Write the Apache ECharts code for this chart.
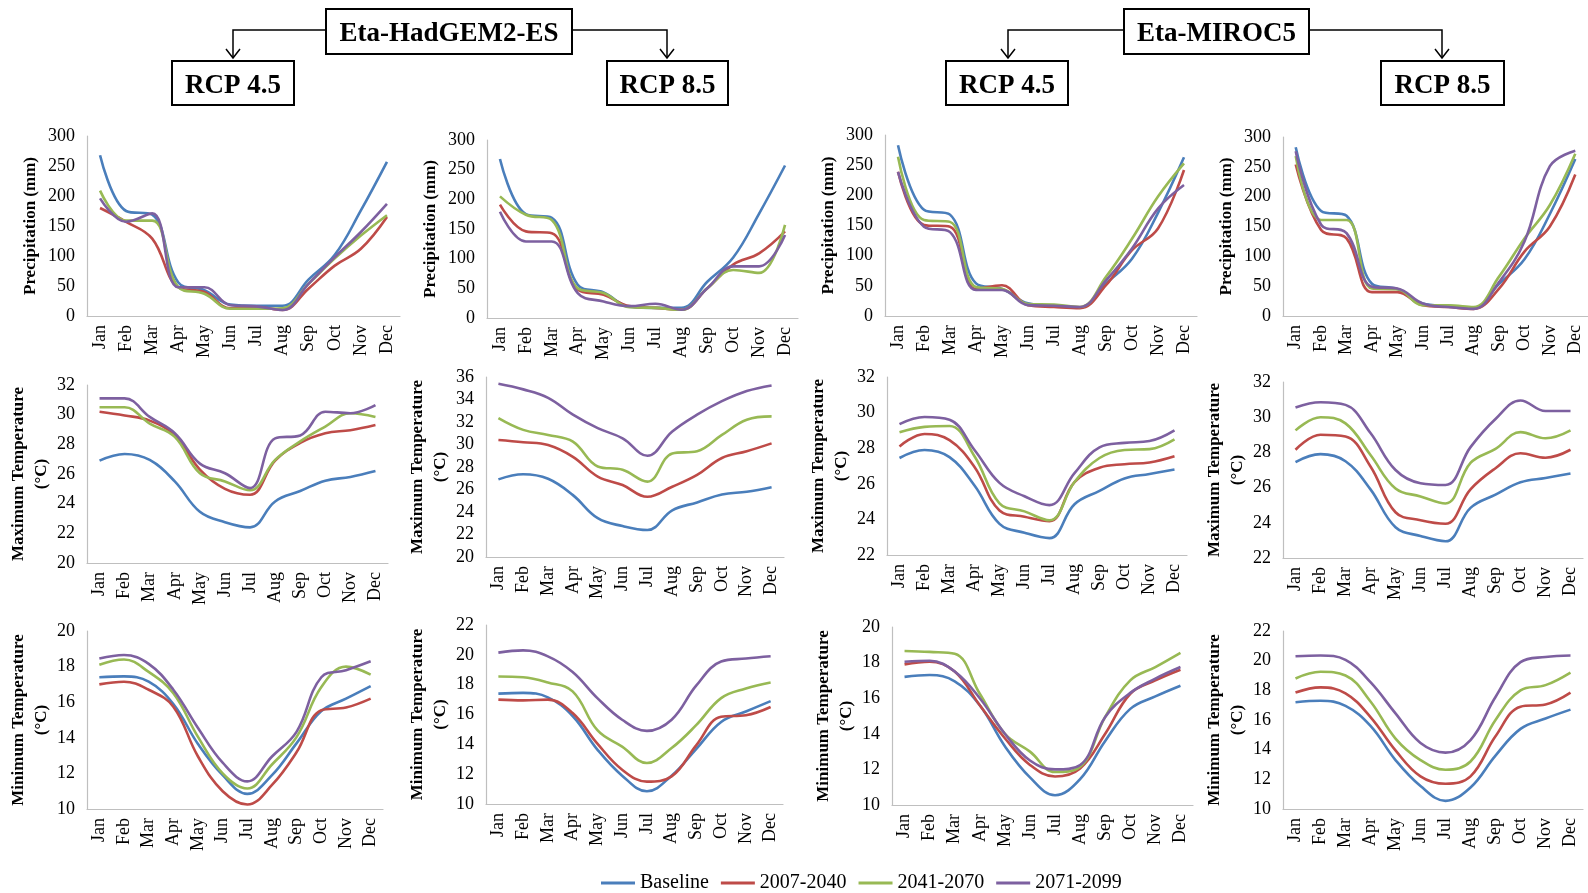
<!DOCTYPE html>
<html>
<head>
<meta charset="utf-8">
<script src="https://cdn.jsdelivr.net/npm/echarts@6/dist/echarts.min.js"></script>
<style>
  body { margin: 0; background: #fff; }
  #main { width: 1588px; height: 893px; }
</style>
</head>
<body>
<div id="main"></div>
<script>
var months = ['Jan', 'Feb', 'Mar', 'Apr', 'May', 'Jun', 'Jul', 'Aug', 'Sep', 'Oct', 'Nov', 'Dec'];
var periods = ['Baseline', '2007-2040', '2041-2070', '2071-2099'];

// baselines (same for both RCPs of one model)
var prHadBase = [268, 175, 169, 56, 43, 19, 17, 17, 61, 102, 176, 257];
var prMirBase = [283, 176, 168, 54, 45, 21, 17, 14, 54, 95, 171, 263];
var txHadBase = [26.9, 27.35, 26.95, 25.5, 23.45, 22.75, 22.4, 24.15, 24.85, 25.55, 25.8, 26.2];
var txMirBase = [27.45, 27.9, 27.5, 25.9, 23.75, 23.25, 22.95, 24.85, 25.6, 26.3, 26.55, 26.8];
var tnHadBase = [17.4, 17.45, 17.15, 15.9, 13.65, 11.9, 10.85, 11.9, 13.7, 15.5, 16.2, 16.9];
var tnMirBase = [17.2, 17.3, 16.95, 15.6, 13.3, 11.55, 10.55, 11.45, 13.6, 15.4, 16.1, 16.7];

// future periods: 2007-2040, 2041-2070, 2071-2099
var prHad45 = [
    [180, 157, 129, 48, 40, 13, 15, 10, 46, 84, 112, 165],
    [209, 159, 159, 48, 37, 12, 12, 13, 54, 96, 134, 168],
    [196, 157, 171, 48, 48, 18, 16, 10, 54, 98, 140, 187]
];
var prHad85 = [
    [191, 146, 143, 48, 39, 20, 17, 14, 50, 90, 109, 146],
    [205, 174, 165, 50, 42, 18, 17, 14, 50, 81, 76, 157],
    [179, 129, 129, 42, 28, 20, 24, 14, 50, 87, 87, 140]
];
var prMir45 = [
    [239, 151, 148, 45, 51, 18, 15, 13, 51, 109, 145, 242],
    [264, 159, 156, 48, 45, 20, 19, 15, 65, 128, 198, 253],
    [239, 148, 139, 43, 43, 18, 17, 15, 59, 112, 178, 217]
];
var prMir85 = [
    [254, 144, 130, 40, 40, 18, 15, 12, 46, 108, 150, 237],
    [268, 161, 161, 46, 45, 18, 18, 15, 66, 130, 186, 272],
    [276, 153, 139, 49, 46, 21, 15, 12, 57, 125, 251, 277]
];
var txHad45 = [
    [30.2, 29.95, 29.6, 28.6, 26.3, 25.0, 24.6, 26.9, 28.1, 28.75, 28.95, 29.3],
    [30.5, 30.5, 29.4, 28.5, 26.05, 25.5, 24.9, 26.95, 28.2, 29.2, 30.1, 29.85],
    [31.1, 31.1, 29.85, 28.75, 26.7, 26.05, 25.05, 28.4, 28.6, 30.2, 30.1, 30.65]
];
var txHad85 = [
    [30.4, 30.2, 29.95, 28.9, 27.15, 26.4, 25.35, 26.25, 27.3, 28.8, 29.4, 30.1],
    [32.35, 31.3, 30.85, 30.25, 28.05, 27.75, 26.7, 29.2, 29.4, 30.85, 32.2, 32.5],
    [35.4, 34.9, 34.15, 32.65, 31.45, 30.55, 29.0, 31.15, 32.65, 33.85, 34.75, 35.25]
];
var txMir45 = [
    [28.1, 28.8, 28.45, 26.95, 24.5, 24.15, 23.9, 26.1, 26.9, 27.1, 27.2, 27.55],
    [28.9, 29.2, 29.25, 27.55, 24.9, 24.45, 23.95, 26.1, 27.45, 27.9, 27.95, 28.5],
    [29.35, 29.75, 29.6, 27.9, 26.05, 25.3, 24.8, 26.6, 28.05, 28.3, 28.4, 29.0]
];
var txMir85 = [
    [28.15, 29.0, 28.9, 27.2, 24.6, 24.15, 23.95, 25.9, 27.1, 27.95, 27.7, 28.15],
    [29.25, 30.0, 29.65, 27.85, 25.95, 25.5, 25.1, 27.4, 28.2, 29.15, 28.8, 29.25],
    [30.55, 30.85, 30.7, 29.1, 27.0, 26.25, 26.15, 28.3, 29.9, 30.95, 30.35, 30.35]
];
var tnHad45 = [
    [17.0, 17.15, 16.7, 15.75, 12.95, 11.0, 10.25, 11.35, 13.2, 15.55, 15.7, 16.2],
    [18.1, 18.4, 17.7, 16.5, 14.05, 12.0, 11.15, 12.5, 14.05, 16.85, 18.0, 17.55],
    [18.45, 18.65, 18.15, 16.7, 14.55, 12.6, 11.55, 12.95, 14.35, 17.4, 17.8, 18.3]
];
var tnHad85 = [
    [17.0, 16.95, 17.0, 16.1, 14.05, 12.3, 11.5, 11.85, 13.95, 15.85, 15.95, 16.5],
    [18.55, 18.5, 18.15, 17.55, 14.95, 13.85, 12.75, 13.75, 15.3, 17.1, 17.75, 18.15],
    [20.15, 20.3, 19.9, 18.85, 17.1, 15.65, 14.9, 15.65, 17.95, 19.55, 19.75, 19.9]
];
var tnMir45 = [
    [17.9, 18.05, 17.5, 15.6, 13.75, 12.25, 11.6, 12.05, 14.0, 16.25, 17.0, 17.6],
    [18.65, 18.6, 18.5, 16.25, 14.0, 13.0, 11.85, 12.15, 14.95, 17.0, 17.75, 18.55],
    [18.05, 18.1, 17.5, 16.0, 14.0, 12.5, 12.0, 12.25, 14.95, 16.3, 17.1, 17.75]
];
var tnMir85 = [
    [17.85, 18.2, 17.8, 16.2, 13.95, 12.2, 11.7, 12.2, 14.9, 16.9, 17.05, 17.85],
    [18.8, 19.25, 19.0, 17.25, 14.75, 13.3, 12.65, 13.2, 16.0, 18.0, 18.35, 19.2],
    [20.3, 20.35, 20.05, 18.55, 16.45, 14.45, 13.8, 14.65, 17.55, 19.9, 20.25, 20.35]
];

// y axis ranges [min, max, interval]
var prRange = [0, 300, 50];
var txRangeA = [20, 32, 2];
var txRangeB = [20, 36, 2];
var txRangeC = [22, 32, 2];
var tnRangeA = [10, 20, 2];
var tnRangeB = [10, 22, 2];

var prName = 'Precipitation (mm)';
var txName = 'Maximum Temperature\n(°C)';
var tnName = 'Minimum Temperature\n(°C)';

var panels = [
    [prHadBase, prHad45, prRange, prName],
    [prHadBase, prHad85, prRange, prName],
    [prMirBase, prMir45, prRange, prName],
    [prMirBase, prMir85, prRange, prName],
    [txHadBase, txHad45, txRangeA, txName],
    [txHadBase, txHad85, txRangeB, txName],
    [txMirBase, txMir45, txRangeC, txName],
    [txMirBase, txMir85, txRangeC, txName],
    [tnHadBase, tnHad45, tnRangeA, tnName],
    [tnHadBase, tnHad85, tnRangeB, tnName],
    [tnMirBase, tnMir45, tnRangeA, tnName],
    [tnMirBase, tnMir85, tnRangeB, tnName]
];

// left, top, width, height of each plot area
var gridBoxes = [
    [87, 136, 313, 180], [487, 140, 311, 178], [885, 135, 312, 181], [1283, 137, 314, 179],
    [87, 385, 301, 178], [486, 377, 298, 180], [887, 377, 300, 178], [1283, 382, 300, 176],
    [87, 631, 296, 178], [486, 625, 297, 179], [892, 627, 301, 178], [1283, 631, 300, 178]
];

var colors = ['#4A7EBB', '#BE4B48', '#98B954', '#7D60A0'];
var serif = '"Liberation Serif", "Times New Roman", serif';

var grids = [], xAxes = [], yAxes = [], series = [];
panels.forEach(function (p, i) {
    var b = gridBoxes[i];
    grids.push({left: b[0], top: b[1], width: b[2], height: b[3]});
    xAxes.push({
        type: 'category',
        gridIndex: i,
        data: months,
        boundaryGap: true,
        axisLine: {lineStyle: {color: '#bfbfbf', width: 1.2}},
        axisTick: {show: false},
        axisLabel: {rotate: 90, interval: 0, margin: 9, fontSize: 18, color: '#000', fontFamily: serif}
    });
    var twoLine = i >= 4;
    yAxes.push({
        type: 'value',
        gridIndex: i,
        min: p[2][0],
        max: p[2][1],
        interval: p[2][2],
        name: p[3],
        nameLocation: 'middle',
        nameGap: twoLine ? 31 : 45,
        nameTextStyle: {fontSize: 17, fontWeight: 'bold', color: '#000', fontFamily: serif, lineHeight: 23},
        axisLine: {show: true, lineStyle: {color: '#bfbfbf', width: 1.2}},
        axisTick: {show: false},
        splitLine: {show: false},
        axisLabel: {margin: 12, fontSize: 18, color: '#000', fontFamily: serif}
    });
    var lines = [p[0]].concat(p[1]);
    lines.forEach(function (vals, k) {
        series.push({
            name: periods[k],
            type: 'line',
            xAxisIndex: i,
            yAxisIndex: i,
            data: vals,
            smooth: 0.4,
            symbol: 'none',
            lineStyle: {width: 2.6, color: colors[k]},
            itemStyle: {color: colors[k]},
            z: 2 + k
        });
    });
});

// header boxes and arrows
var headFont = {fontSize: 27, fontWeight: 'bold', fontFamily: serif, fill: '#000'};
function box(x1, x2, y1, y2, label) {
    return [
        {type: 'rect', shape: {x: x1, y: y1, width: x2 - x1, height: y2 - y1},
         style: {fill: '#fff', stroke: '#000', lineWidth: 2}},
        {type: 'text', x: (x1 + x2) / 2, y: (y1 + y2) / 2 + 3,
         style: Object.assign({text: label, textAlign: 'center', textVerticalAlign: 'middle'}, headFont)}
    ];
}
function arrow(fromX, toX, y, tipY) {
    return [
        {type: 'polyline', shape: {points: [[fromX, y], [toX, y], [toX, tipY]]},
         style: {stroke: '#000', lineWidth: 1.5, fill: null}},
        {type: 'polyline', shape: {points: [[toX - 7, tipY - 9], [toX, tipY], [toX + 7, tipY - 9]]},
         style: {stroke: '#000', lineWidth: 1.5, fill: null}}
    ];
}
var graphics = [].concat(
    arrow(326, 233, 30, 58), arrow(572, 667, 30, 58),
    arrow(1124, 1008, 30, 58), arrow(1309, 1442, 30, 58),
    box(326, 572, 9, 54, 'Eta-HadGEM2-ES'),
    box(1124, 1309, 9, 54, 'Eta-MIROC5'),
    box(172, 294, 61, 105, 'RCP 4.5'),
    box(607, 728, 61, 105, 'RCP 8.5'),
    box(946, 1068, 61, 105, 'RCP 4.5'),
    box(1381, 1504, 61, 105, 'RCP 8.5')
);

var chart = echarts.init(document.getElementById('main'));
var option = {
    animation: false,
    backgroundColor: '#fff',
    legend: {
        data: periods,
        left: 596,
        top: 868,
        icon: 'rect',
        itemWidth: 34,
        itemHeight: 3,
        itemGap: 12,
        textStyle: {fontSize: 20, color: '#000', fontFamily: serif}
    },
    grid: grids,
    xAxis: xAxes,
    yAxis: yAxes,
    series: series,
    graphic: graphics
};
chart.setOption(option);
</script>
</body>
</html>
